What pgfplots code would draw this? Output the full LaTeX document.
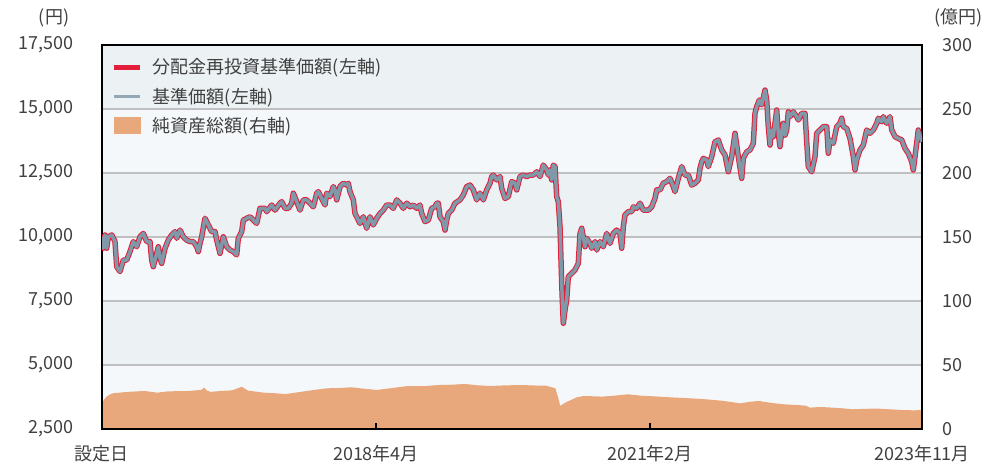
\documentclass[border=0pt]{standalone}
\usepackage{pgfplots}
\pgfplotsset{compat=1.18}
\usepackage{pgfplotstable}
\usepackage{fontspec}
\setmainfont{Noto Sans CJK JP}
\definecolor{bandD}{RGB}{236,241,244}
\definecolor{bandL}{RGB}{245,248,250}
\definecolor{redline}{RGB}{226,30,58}
\definecolor{grayline}{RGB}{128,152,168}
\definecolor{areaC}{RGB}{232,168,124}
\definecolor{txt}{RGB}{64,64,64}
\definecolor{gridc}{RGB}{192,192,192}

\pgfplotstableread{
x y
0 10010
1.3 9560
3 10080
4.7 9560
6.3 10010
9.7 10080
13 9820
14.7 8840
18 8650
21.3 9100
24.7 9100
28 9430
31.3 9820
34.7 9620
38 10010
41.3 10140
44.7 9820
48 9820
49.7 9100
51.3 8840
54.7 9360
56.3 9620
58 9170
59.7 8970
63 9560
66.3 9880
69.7 10080
73 10210
74.7 9950
78 10270
81.3 10010
84.7 9880
88 9820
91.3 9820
94.7 9620
96.3 9430
98 9750
99.7 10010
103 10730
106.3 10470
109.7 10210
113 10210
114.7 9880
118 9360
121.3 10010
124.7 9620
128 9490
131.3 9430
134.7 9300
136.3 9950
139.7 10210
141.3 10660
144.7 10730
148 10790
153 10600
154.7 10530
158 11120
163 11120
164.7 10990
169.7 11250
173 11050
178 11320
179.7 11380
183 11120
186.3 11120
189.7 11320
191.3 11710
194.7 11380
198 11050
201.3 11450
204.7 11450
208 11320
211.3 11180
214.7 11710
216.3 11770
219.7 11510
223 11250
224.7 11710
228 11580
231.3 11970
233 11840
234.7 11450
238 11970
241.3 12100
244.7 12030
246.3 12100
248 11770
251.3 11450
253 10920
254.7 10790
258 10530
261.3 10790
264.7 10340
268 10790
271.3 10470
274.7 10730
278 10920
281.3 11050
284.7 11250
288 11250
291.3 11120
294.7 11450
298 11320
301.3 11120
304.7 11320
308 11180
311.3 11250
314.7 11120
318 11250
319.7 10920
323 10600
326.3 10660
329.7 11120
333 11180
334.7 11320
336.3 11320
338 10790
341.3 10600
343 10270
344.7 10660
346.3 10920
349.7 11050
353 11320
358 11450
361.3 11640
364.7 11970
368 12030
371.3 11840
374.7 11450
378 11710
381.3 11450
384.7 11840
388 12100
389.7 12360
391.3 12420
394.7 12230
398 12360
399.7 11900
403 11510
406.3 11580
409.7 12160
413 12100
414.7 11840
418 12360
421.3 12420
424.7 12360
428 12420
431.3 12420
434.7 12550
438 12360
441.3 12810
444.7 12620
446.3 12420
448 12620
449.7 12230
451.3 12810
453 12750
454.7 11580
456.3 11380
458 10400
459.7 8190
460.7 7150
461.3 6630
463 7150
464.7 7540
466.3 8450
469.7 8580
473 8710
474.7 8840
476.3 8970
478 10140
479.7 10340
483 9620
484.7 9950
488 9750
489.7 9560
493 9820
494.7 9490
498 9820
501.3 9620
504.7 10140
508 9750
511.3 10140
514.7 10270
518 10140
519.7 9560
521.3 10400
523 10860
526.3 10990
529.7 10990
531.3 11180
534.7 11120
538 11320
541.3 11050
546.3 11050
549.7 11180
553 11510
554.7 11840
558 11840
561.3 12100
564.7 12160
568 12290
571.3 11970
573 11770
576.3 12290
579.7 12750
583 12420
586.3 12420
589.7 12030
593 12100
596.3 12230
598 12680
599.7 12940
601.3 13070
604.7 13010
606.3 12750
609.7 13140
613 13720
616.3 13790
619.7 13400
623 13200
626.3 12550
629.7 13140
633 14050
634.7 13590
636.3 13140
639.7 12290
641.3 13070
644.7 13330
648 13400
651.3 13660
653 14830
654.7 15090
657.3 15350
659.7 15160
663 15740
664.7 15350
666.3 14310
668 13590
669.7 14180
671.3 13920
674.7 14960
676.3 14050
678 13530
679.7 14110
681.3 14440
683 13980
684.7 14180
686.3 14890
688 14700
691.3 14890
694.7 14700
696.3 14570
699.7 14830
703 14830
704.7 13720
706.3 12750
709.7 12550
713 13140
714.7 14050
718 14180
721.3 14310
724.7 14310
726.3 13270
728 13790
731.3 13660
734.7 14310
738 14440
739.7 14640
741.3 14310
744.7 14240
748 13850
751.3 13140
753 12620
754.7 13010
758 13400
761.3 13590
764.7 14180
768 14050
771.3 14180
774.7 14440
776.3 14640
779.7 14500
781.3 14700
784.7 14440
788 14700
789.7 14180
793 13920
796.3 13850
799.7 13790
803 13460
806.3 13270
809.7 12940
811.3 12620
813 13140
816.3 14180
818 13920
820 13720
}\price

\pgfplotstableread{
x y
0 20
2 23
5 25.5
8 27
11.3 27.9
20 28.6
30 29.2
42.6 29.7
55.2 28.4
65 29.3
75 29.6
86.5 29.7
99 30.5
102.2 32.3
105 30
108.5 29
120 29.8
130 30.2
139.8 33
146 30
161.8 28.4
172 28
183.7 27.3
195 28.6
212 30.5
224.5 31.8
237 32
249.5 32.6
262 31.5
274.6 30.5
290 32
306 33.6
320 33.4
337.3 34.4
350 34.6
362.4 35.2
375 34.2
387.5 33.6
400 34
418.8 34.4
432 34
444 33.9
453.3 31.8
456 25
458.3 18
463 20.5
469 22.7
475 24.8
481.5 25.8
490 25.6
500.3 25.3
512 26
525.4 27.1
540 26
556.8 25.3
572 24.6
588 24
604 23.2
619.5 22.1
630 21
638.3 20
647 21.2
657 21.9
670 20.3
682 19.3
694 18.8
704 18.2
708 16.7
718 17.2
726 16.9
740 16.2
751 15.4
764 15.8
776 15.9
790 15.3
801 14.8
812 14.6
820 14.8
}\nav

\begin{document}
\begin{tikzpicture}
\useasboundingbox (-76.5pt,-30pt) rectangle (661.5pt,321.75pt);
\begin{axis}[
  at={(0pt,0pt)}, anchor=south west,
  scale only axis, width=615pt, height=288pt,
  xmin=0, xmax=820, ymin=0, ymax=300,
  hide x axis,
  axis y line*=right,
  y axis line style={draw=none},
  ytick={0,50,...,300},
  major tick length=0pt,
  yticklabel style={anchor=west, xshift=12pt},
  tick label style={font=\fontsize{13.5}{16}\selectfont, text=txt},
  /pgf/number format/assume math mode=true,
  axis background/.style={fill=bandL},
]
\fill[bandD] (axis cs:0,250) rectangle (axis cs:820,300);
\fill[bandD] (axis cs:0,150) rectangle (axis cs:820,200);
\fill[bandD] (axis cs:0,50) rectangle (axis cs:820,100);
\addplot[fill=areaC, draw=none] table[x=x,y=y] {\nav} \closedcycle;
\end{axis}
\begin{axis}[
  at={(0pt,0pt)}, anchor=south west,
  scale only axis, width=615pt, height=288pt,
  xmin=0, xmax=820, ymin=2500, ymax=17500,
  axis line style={black, line width=0.8pt},
  xtick={0,274,548,820},
  xticklabels={設定日,2018年4月,2021年2月,2023年11月},
  ytick={2500,5000,...,17500},
  scaled y ticks=false,
  ymajorgrids, grid style={gridc, line width=0.8pt},
  tick align=inside, xtick pos=lower,
  xtick style={black, line width=0.8pt},
  major tick length=4.5pt,
  ytick style={draw=none},
  yticklabel style={xshift=-18pt, /pgf/number format/fixed, /pgf/number format/1000 sep={,}},
  xticklabel style={yshift=-9pt},
  tick label style={font=\fontsize{13.5}{16}\selectfont, text=txt},
  /pgf/number format/assume math mode=true,
  legend cell align=left,
  legend style={at={(0,1)}, anchor=north west, draw=none, fill=none,
    font=\fontsize{13.5}{16}\selectfont, text=txt, row sep=5pt,
    xshift=4pt, yshift=-6pt,
    /tikz/every odd column/.style={column sep=6pt}},
  clip mode=individual,
]
\addplot[redline, line width=4.1pt, line join=round,
  legend image code/.code={\draw[redline, line width=3.5pt] (0pt,0pt) -- (19.5pt,0pt);}]
  table[x=x,y=y] {\price};
\addlegendentry{分配金再投資基準価額(左軸)}
\addplot[grayline, line width=2.6pt, line join=round,
  legend image code/.code={\draw[grayline!85!white, line width=2pt] (0pt,0pt) -- (19.5pt,0pt);}]
  table[x=x,y=y] {\price};
\addlegendentry{基準価額(左軸)}
\addlegendimage{legend image code/.code={\fill[areaC] (0pt,-6pt) rectangle (19.5pt,6pt);}}
\addlegendentry{純資産総額(右軸)}
\node[font=\fontsize{13.5}{16}\selectfont, text=txt] at (axis description cs:-0.0585,1.07) {(円)};
\node[font=\fontsize{13.5}{16}\selectfont, text=txt] at (axis description cs:1.0445,1.07) {(億円)};
\end{axis}
\end{tikzpicture}
\end{document}
